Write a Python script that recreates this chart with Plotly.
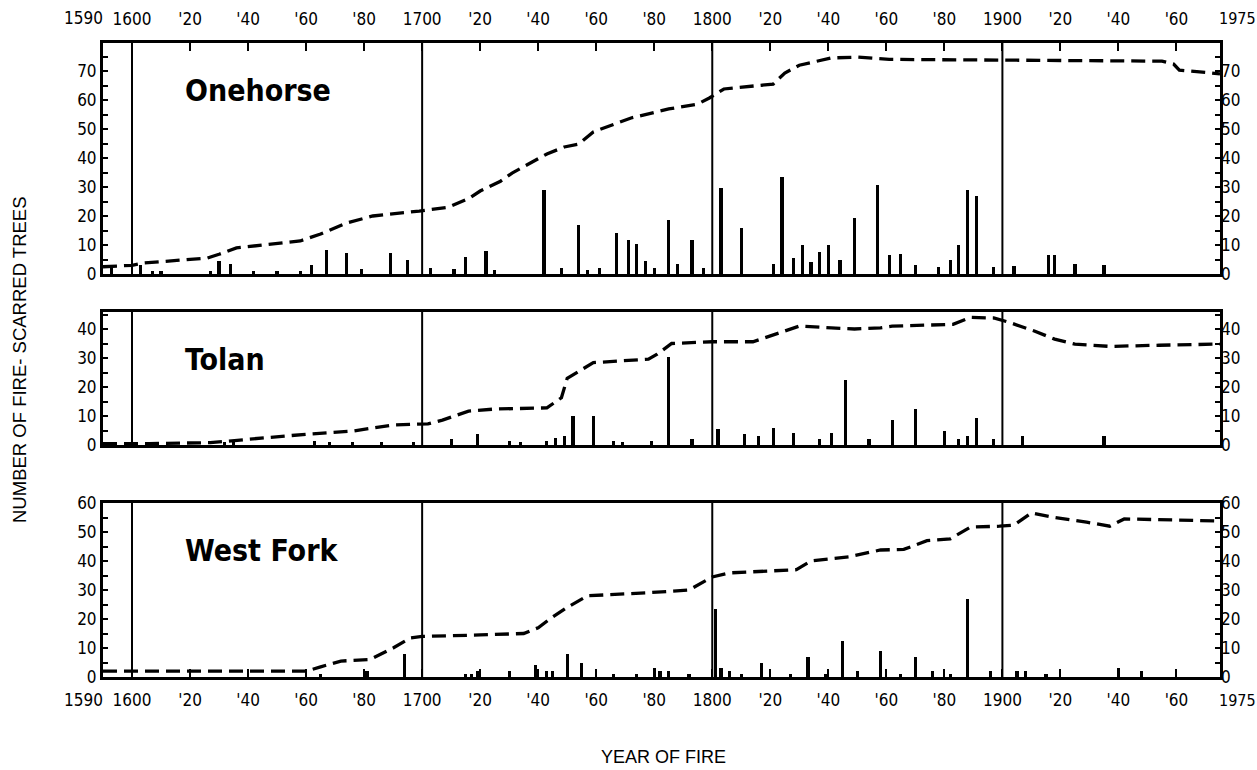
import plotly.graph_objects as go

# ---------------- data ----------------
ONE_BAR_YEARS = [1593, 1603, 1607, 1610, 1627, 1630, 1634, 1642, 1650, 1658, 1662, 1667, 1674, 1679, 1689, 1695,
                 1703, 1711, 1715, 1722, 1725, 1742, 1748, 1754, 1757, 1761, 1767, 1771, 1774, 1777, 1780, 1785,
                 1788, 1793, 1797, 1803, 1810, 1821, 1824, 1828, 1831, 1834, 1837, 1840, 1844, 1849, 1857, 1861,
                 1865, 1870, 1878, 1882, 1885, 1888, 1891, 1897, 1904, 1916, 1918, 1925, 1935]
ONE_BAR_VALS = [2, 3, 1, 1, 1, 4.5, 3.5, 1, 1, 1, 3, 8.3, 7.3, 1.7, 7.3, 4.8,
                2, 1.7, 6, 8, 1.5, 29, 2, 17, 1.5, 2, 14, 11.7, 10.3, 4.5, 2, 18.6,
                3.4, 11.7, 2, 29.5, 16, 3.4, 33.5, 5.6, 10, 4.1, 7.6, 10, 5, 19.4, 30.6, 6.5,
                7, 3, 2.5, 4.8, 10, 29, 27, 2.4, 2.7, 6.5, 6.5, 3.5, 3]
ONE_LINE_YEARS = [1590, 1600, 1604, 1626, 1630, 1636, 1658, 1665, 1674, 1683, 1699, 1709, 1716, 1720, 1727, 1731,
                  1743, 1749, 1754, 1759, 1772, 1785, 1795, 1799, 1804, 1821, 1825, 1830, 1841, 1850, 1861, 1899,
                  1955, 1959, 1961, 1972, 1975]
ONE_LINE_VALS = [2.5, 3, 3.8, 5.5, 6.8, 9, 11.4, 13.8, 17.6, 20, 21.7, 23, 26, 28.6, 32, 34.8,
                 41.4, 43.8, 44.8, 49, 53.8, 56.9, 58.6, 60.7, 63.8, 65.5, 69.3, 72, 74.5, 74.8, 74, 73.8,
                 73.4, 72.4, 70.3, 69.3, 69]

TOL_BAR_YEARS = [1593, 1632, 1635, 1663, 1668, 1676, 1686, 1697, 1710, 1719, 1730, 1734, 1743, 1746, 1749, 1752,
                 1759, 1766, 1769, 1779, 1785, 1793, 1802, 1811, 1816, 1821, 1828, 1837, 1841, 1846, 1854, 1862,
                 1870, 1880, 1885, 1888, 1891, 1897, 1907, 1935]
TOL_BAR_VALS = [1, 1, 1, 1.4, 1, 1, 1, 1.2, 2, 3.7, 1.4, 1.2, 1.4, 2.4, 3, 10,
                10, 1.4, 1, 1.4, 30.3, 2, 5.5, 3.8, 3.1, 6, 4.2, 2, 4.2, 22.4, 2.2, 8.5,
                12.4, 5, 2, 3, 9.2, 2.2, 3, 3]
TOL_LINE_YEARS = [1590, 1606, 1627, 1635, 1646, 1660, 1676, 1690, 1702, 1707, 1716, 1725, 1743, 1748, 1750, 1755,
                  1759, 1778, 1781, 1786, 1800, 1814, 1820, 1830, 1841, 1849, 1858, 1862, 1883, 1889, 1897, 1902,
                  1911, 1918, 1925, 1937, 1954, 1975]
TOL_LINE_VALS = [0.5, 0.5, 0.8, 1.4, 2.5, 3.7, 4.8, 6.9, 7.3, 8.6, 11.7, 12.4, 12.8, 16.3, 23, 26,
                 28.4, 29.6, 31.3, 35, 35.6, 35.6, 37.6, 41, 40.4, 40, 40.4, 41, 41.6, 44, 43.8, 42.4,
                 39.3, 36.5, 34.8, 34, 34.4, 34.8]

WF_BAR_YEARS = [1665, 1681, 1694, 1715, 1717, 1719, 1730, 1739, 1743, 1745, 1750, 1755, 1766, 1774, 1780, 1782,
                1785, 1792, 1801, 1803, 1806, 1810, 1817, 1827, 1833, 1839, 1845, 1850, 1858, 1865, 1870, 1876,
                1882, 1888, 1896, 1905, 1908, 1915, 1940, 1948]
WF_BAR_VALS = [1, 2, 8, 1, 1, 2, 2, 4, 2, 2, 8, 5, 1, 1, 3, 2,
               2, 1, 23.5, 3, 2, 1, 5, 1, 7, 1, 12.5, 2, 9, 1, 7, 2,
               1, 27, 2, 2, 2, 1, 3, 2]
WF_LINE_YEARS = [1590, 1660, 1665, 1672, 1682, 1690, 1696, 1700, 1720, 1735, 1740, 1744, 1750, 1757, 1777, 1792,
                 1800, 1806, 1829, 1834, 1847, 1858, 1866, 1874, 1882, 1889, 1899, 1904, 1910, 1918, 1929, 1937,
                 1942, 1975]
WF_LINE_VALS = [2, 2, 3.5, 5.5, 6, 10, 13.5, 14, 14.5, 15, 17, 20, 24, 28, 29, 30,
                34.5, 35.9, 37, 40, 41.4, 43.8, 44, 47, 47.6, 51.7, 52, 52.4, 56.6, 55, 53.4, 52,
                54.5, 53.8]

PANEL_NAMES = ["Onehorse", "Tolan", "West Fork"]
CENTURIES = [1600, 1700, 1800, 1900]
X_TICK_VALS = [1600, 1620, 1640, 1660, 1680, 1700, 1720, 1740, 1760, 1780, 1800, 1820, 1840, 1860, 1880,
               1900, 1920, 1940, 1960]
X_TICK_TEXT = ["1600", "'20", "'40", "'60", "'80", "1700", "'20", "'40", "'60", "'80", "1800", "'20", "'40",
               "'60", "'80", "1900", "'20", "'40", "'60"]
X_START_LABEL = "1590"
X_END_LABEL = "1975"
Y_MAX_LABEL = [70, 40, 60]
Y_TITLE = "NUMBER OF FIRE- SCARRED TREES"
X_TITLE = "YEAR OF FIRE"

# ---------------- layout helpers ----------------
W, H = 1257, 770
ML, MR = 103, 37
PANELS_PX = [(43, 274), (312, 445), (503, 677)]
PX_PER_UNIT = 2.9
XR = [1590, 1975]
FONT = "Liberation Sans Narrow, DejaVu Sans Condensed, Arial Narrow, sans-serif"
TITLE_FONT = "DejaVu Sans Condensed, Liberation Sans Narrow, Arial Narrow, sans-serif"
PW = W - ML - MR


def dom(top, bot):
    return [1 - bot / H, 1 - top / H]


fig = go.Figure()
bars = [(ONE_BAR_YEARS, ONE_BAR_VALS), (TOL_BAR_YEARS, TOL_BAR_VALS), (WF_BAR_YEARS, WF_BAR_VALS)]
lines = [(ONE_LINE_YEARS, ONE_LINE_VALS), (TOL_LINE_YEARS, TOL_LINE_VALS), (WF_LINE_YEARS, WF_LINE_VALS)]

shapes = []
annotations = []
for i in range(3):
    xa = "x" if i == 0 else f"x{i+1}"
    ya = "y" if i == 0 else f"y{i+1}"
    fig.add_trace(go.Bar(x=bars[i][0], y=bars[i][1], width=1.1, xaxis=xa, yaxis=ya,
                         marker=dict(color="black", line=dict(width=0)), showlegend=False))
    fig.add_trace(go.Scatter(x=lines[i][0], y=lines[i][1], mode="lines", xaxis=xa, yaxis=ya,
                             line=dict(color="black", width=3.3, dash="14px,7px"), showlegend=False))
    top, bot = PANELS_PX[i]
    ymax = (bot - top) / PX_PER_UNIT
    tv = list(range(0, int(ymax) + 1, 5))
    tt = [str(v) if (v % 10 == 0 and v <= Y_MAX_LABEL[i]) else "" for v in tv]
    common_y = dict(range=[0, ymax], domain=dom(top, bot), tickmode="array", tickvals=tv, ticktext=tt,
                    ticks="inside", ticklen=5, tickwidth=2, tickcolor="black", showgrid=False, zeroline=False,
                    tickfont=dict(family=FONT, size=17, color="black"), fixedrange=True)
    key_y = "yaxis" if i == 0 else f"yaxis{i+1}"
    fig.layout[key_y] = dict(common_y, anchor=xa, showline=True, linewidth=3, linecolor="black", mirror=True)
    rid = 4 + i
    fig.layout[f"yaxis{rid}"] = dict(common_y, anchor=xa, overlaying=ya, side="right", showline=False)
    fig.add_trace(go.Scatter(x=[XR[0]], y=[0], xaxis=xa, yaxis=f"y{rid}", mode="markers",
                             marker=dict(opacity=0), showlegend=False, hoverinfo="skip"))

    key_x = "xaxis" if i == 0 else f"xaxis{i+1}"
    xd = dict(range=XR, domain=[0, 1], anchor=ya, showline=True, linewidth=3, linecolor="black", mirror=True,
              showgrid=False, zeroline=False, tickmode="array", tickvals=X_TICK_VALS, ticktext=X_TICK_TEXT,
              tickfont=dict(family=FONT, size=17, color="black"), fixedrange=True)
    if i == 0:
        xd.update(side="top", ticks="inside", ticklen=8, tickwidth=2, tickcolor="black", ticklabelstandoff=8)
    elif i == 2:
        xd.update(side="bottom", ticks="inside", ticklen=8, tickwidth=2, tickcolor="black", ticklabelstandoff=6)
    else:
        xd.update(showticklabels=False, ticks="")
    if i > 0:
        xd["matches"] = "x"
    fig.layout[key_x] = xd

    for c in CENTURIES:
        shapes.append(dict(type="line", xref=xa, yref=f"{ya} domain", x0=c, x1=c, y0=0, y1=1,
                           line=dict(color="black", width=2), layer="above"))

    annotations.append(dict(text=f"<b>{PANEL_NAMES[i]}</b>", xref="paper", yref="paper",
                            x=(183 - ML) / PW, y=1 - (top + 47) / H, xanchor="left", yanchor="middle",
                            showarrow=False, font=dict(family=TITLE_FONT, size=30, color="black")))

for ypx in (18, 700):
    annotations.append(dict(text=X_START_LABEL, xref="paper", yref="paper", x=0, y=1 - ypx / H,
                            xanchor="right", yanchor="middle", xshift=2, showarrow=False,
                            font=dict(family=FONT, size=17, color="black")))
    annotations.append(dict(text=X_END_LABEL, xref="paper", yref="paper", x=1, y=1 - ypx / H,
                            xanchor="left", yanchor="middle", xshift=-3, showarrow=False,
                            font=dict(family=FONT, size=16, color="black")))

annotations.append(dict(text=Y_TITLE, xref="paper", yref="paper", x=(20 - ML) / PW, y=1 - 360 / H,
                        textangle=-90, showarrow=False, xanchor="center", yanchor="middle",
                        font=dict(family="Liberation Sans, DejaVu Sans, sans-serif", size=18.5, color="black")))
annotations.append(dict(text=X_TITLE, xref="paper", yref="paper", x=(663 - ML) / PW, y=1 - 757 / H,
                        showarrow=False, xanchor="center", yanchor="middle",
                        font=dict(family="Liberation Sans, DejaVu Sans, sans-serif", size=18, color="black")))

fig.update_layout(width=W, height=H, margin=dict(l=ML, r=MR, t=0, b=0, autoexpand=False),
                  paper_bgcolor="white", plot_bgcolor="white", shapes=shapes, annotations=annotations,
                  showlegend=False, bargap=0)

fig.write_html("out.html", config={"displayModeBar": False},
               post_script="document.documentElement.style.margin='0';document.body.style.margin='0';"
                           "document.body.style.overflow='hidden';")
